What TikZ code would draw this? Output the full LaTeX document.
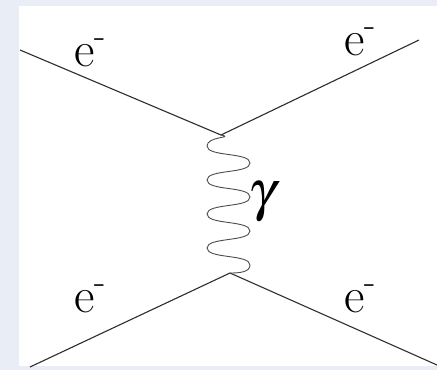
\documentclass[tikz,border=0pt]{standalone}
\usepackage{mathptmx}
\definecolor{framegray}{RGB}{233,237,245}
\definecolor{linegray}{RGB}{45,45,45}
\begin{document}
\begin{tikzpicture}[
        x=1pt, y=-1pt,
        fermion/.style={draw=linegray, line width=1.1pt},
        photon/.style={draw=linegray!85, line width=0.9pt},
        elabel/.style={inner sep=0pt, anchor=base west, font=\fontsize{50}{50}\selectfont},
        glabel/.style={inner sep=0pt, font=\fontsize{56}{56}\selectfont}
    ]
    \fill[framegray] (0,0) rectangle (437,370);
    \fill[white] (19,6) rectangle (437,366);
    \useasboundingbox (0,0) rectangle (437,370);
    \coordinate (inA) at (20,50);
    \coordinate (outA) at (419,40);
    \coordinate (inB) at (30,367);
    \coordinate (outB) at (437,365);
    \coordinate (vtop) at (221,135);
    \coordinate (vbot) at (230,273);
    \draw[fermion] (inA) -- (vtop);
    \draw[fermion] (vtop) -- (outA);
    \draw[fermion] (inB) -- (vbot);
    \draw[fermion] (vbot) -- (outB);
    \draw[photon] (vtop) .. controls +(14,3) and +(0,-10) .. (207,146)
        \foreach \y in {146,180,214} {
            .. controls +(0,11) and +(0,-11) .. (250,{\y+17})
            .. controls +(0,11) and +(0,-11) .. (207,{\y+34})}
        .. controls +(0,11) and +(0,-11) .. (250,265)
        .. controls +(0,7) and +(10,0) .. (vbot);
    \node[elabel] (eTL) at (74,66) {e\textsuperscript{-}};
    \node[elabel] (eTR) at (344,55) {e\textsuperscript{-}};
    \node[elabel] (eBL) at (74,312) {e\textsuperscript{-}};
    \node[elabel] (eBR) at (344,312) {e\textsuperscript{-}};
    \node[glabel] (gamma) at (262,202) {$\gamma$};
\end{tikzpicture}
\end{document}
